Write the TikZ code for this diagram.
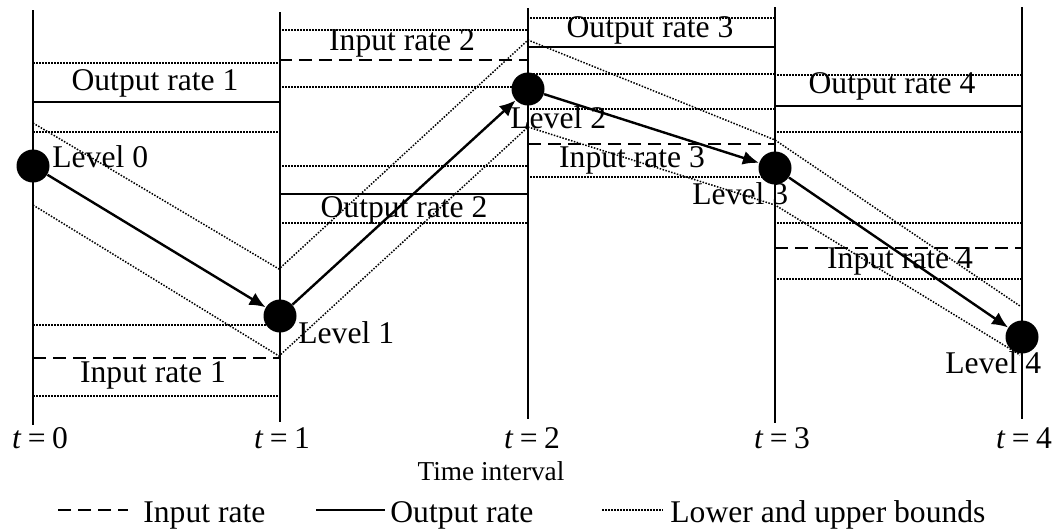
\documentclass[tikz,border=0pt]{standalone}
\usepackage{fontspec}
\setmainfont{Liberation Serif}
\usetikzlibrary{arrows.meta,positioning}

\begin{document}
\begin{tikzpicture}[
  x=0.5pt,
  y=-0.5pt,
  >=Latex,
  axis/.style={
    line width=1pt
  },
  outrate/.style={
    line width=0.8pt
  },
  inrate/.style={
    line width=0.8pt,
    dash pattern=on 6.5pt off 3.5pt
  },
  bound/.style={
    line width=0.75pt,
    dash pattern=on 0.75pt off 0.75pt
  },
  level/.style={
    circle,
    fill=black,
    minimum size=16.5pt,
    inner sep=0pt
  },
  lbl/.style={
    inner sep=0pt,
    anchor=base,
    font=\fontsize{15.8}{18}\selectfont
  },
  tick/.style={
    inner sep=0pt,
    anchor=base,
    font=\fontsize{13.65}{16}\selectfont
  },
  flow/.style={
    -{Latex[length=8pt,width=7pt]},
    line width=1.2pt
  }
]

\useasboundingbox (0,0) rectangle (1063,531);

% Rate lines with their bounds, interval 1
\draw[bound] (33,63) -- (282,63);
\draw[outrate] (33,102) -- (279,102);
\draw[bound] (33,132) -- (282,132);
\draw[bound] (33,325) -- (282,325);
\draw[inrate] (33,358) -- (279,358);
\draw[bound] (33,396) -- (282,396);

% interval 2
\draw[bound] (282,30) -- (528,30);
\draw[inrate] (279,60) -- (528,60);
\draw[bound] (282,87) -- (528,87);
\draw[bound] (282,166) -- (528,166);
\draw[outrate] (279,194) -- (528,194);
\draw[bound] (282,223) -- (528,223);

% interval 3
\draw[bound] (530,18) -- (775,18);
\draw[outrate] (528,47) -- (775,47);
\draw[bound] (530,74) -- (775,74);
\draw[bound] (530,109) -- (775,109);
\draw[inrate] (528,144) -- (775,144);
\draw[bound] (530,177) -- (775,177);

% interval 4
\draw[bound] (777,75) -- (1022,75);
\draw[outrate] (775,106) -- (1022,106);
\draw[bound] (777,132) -- (1022,132);
\draw[bound] (777,223) -- (1022,223);
\draw[inrate] (775,248) -- (1022,248);
\draw[bound] (777,279) -- (1022,279);

% Bounds on the level
\draw[bound] (33,123) -- (279,269) -- (528,40) -- (775,140) -- (1020,306);
\draw[bound] (33,205) -- (279,356) -- (528,127) -- (775,205) -- (1020,355);

% Time lines
\coordinate (top0) at (33,10);
\coordinate (bot0) at (33,425);
\coordinate (top1) at (280,12);
\coordinate (bot1) at (280,422);
\coordinate (top2) at (528,8);
\coordinate (bot2) at (528,419);
\coordinate (top3) at (775,7);
\coordinate (bot3) at (775,423);
\coordinate (top4) at (1022,7);
\coordinate (bot4) at (1022,419);

\draw[axis] (top0) -- (bot0);
\draw[axis] (top1) -- (bot1);
\draw[axis] (top2) -- (bot2);
\draw[axis] (top3) -- (bot3);
\draw[axis] (top4) -- (bot4);

% Levels
\node[level] (lev0) at (33,166) {};
\node[level] (lev1) at (280,316) {};
\node[level] (lev2) at (528,89) {};
\node[level] (lev3) at (775,168) {};
\node[level] (lev4) at (1022,337) {};

\draw[flow] (lev0) -- (lev1);
\draw[flow] (lev1) -- (lev2);
\draw[flow] (lev2) -- (lev3);
\draw[flow] (lev3) -- (lev4);

\node[lbl, anchor=base west] (lev0lbl) at (52,167) {Level 0};
\node[lbl, anchor=base west] (lev1lbl) at (298,343) {Level 1};
\node[lbl, anchor=base west] (lev2lbl) at (510,128) {Level 2};
\node[lbl, anchor=base west] (lev3lbl) at (692,204) {Level 3};
\node[lbl, anchor=base west] (lev4lbl) at (945,373) {Level 4};

% Rate labels
\node[lbl] (out1) at (155,90) {Output rate 1};
\node[lbl] (in1) at (153,382) {Input rate 1};
\node[lbl] (in2) at (402,50) {Input rate 2};
\node[lbl] (out2) at (404,217) {Output rate 2};
\node[lbl] (out3) at (650,37) {Output rate 3};
\node[lbl] (in3) at (632,167) {Input rate 3};
\node[lbl] (out4) at (892,93) {Output rate 4};
\node[lbl] (in4) at (900,268) {Input rate 4};

% Time axis
\node[lbl] (t0) at (40,448) {\textit{t}\hspace{0.2em}=\hspace{0.2em}0};
\node[lbl] (t1) at (282,448) {\textit{t}\hspace{0.2em}=\hspace{0.2em}1};
\node[lbl] (t2) at (532,448) {\textit{t}\hspace{0.2em}=\hspace{0.2em}2};
\node[lbl] (t3) at (782,448) {\textit{t}\hspace{0.2em}=\hspace{0.2em}3};
\node[lbl] (t4) at (1024,448) {\textit{t}\hspace{0.2em}=\hspace{0.2em}4};
\node[tick] (time) at (491,480) {Time interval};

% Legend
\coordinate (keyinA) at (58,510);
\coordinate (keyinB) at (128,510);
\coordinate (keyoutA) at (316,510);
\coordinate (keyoutB) at (385,510);
\coordinate (keybdA) at (602,510);
\coordinate (keybdB) at (663,510);

\draw[inrate] (keyinA) -- (keyinB);
\draw[outrate] (keyoutA) -- (keyoutB);
\draw[bound] (keybdA) -- (keybdB);

\node[lbl, anchor=base west] (keyin) at (143,522) {Input rate};
\node[lbl, anchor=base west] (keyout) at (390,522) {Output rate};
\node[lbl, anchor=base west] (keybd) at (670,522) {Lower and upper bounds};

\end{tikzpicture}
\end{document}
